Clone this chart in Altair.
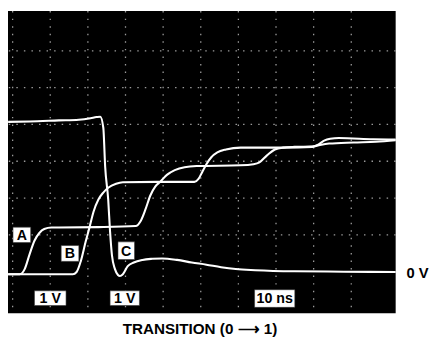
import altair as alt
import pandas as pd

# time axis in ns (10 ns/div), voltage in V (1 V/div)
time_a = [-1.2, 1.9, 3.2, 4.5, 5.8, 7.1, 8.4, 10.3, 12.3, 22.8, 32.7, 34.0, 35.3, 36.6, 37.9, 39.2, 41.0, 43.1, 45.7, 48.9, 60.6, 64.0, 65.6, 67.6, 69.7, 71.8, 74.9, 79.6, 81.2, 82.8, 84.4, 86.7, 95.8, 101.8]
volt_a = [-0.07, -0.07, 0.07, 0.47, 0.84, 1.05, 1.16, 1.20, 1.20, 1.21, 1.24, 1.37, 1.69, 2.07, 2.31, 2.44, 2.63, 2.76, 2.84, 2.87, 2.89, 2.92, 2.97, 3.16, 3.32, 3.37, 3.39, 3.40, 3.45, 3.56, 3.61, 3.63, 3.60, 3.59]

time_b = [-1.2, 16.0, 17.0, 18.1, 19.4, 20.4, 21.5, 22.8, 24.1, 25.4, 27.5, 29.3, 38.4, 48.3, 49.4, 50.4, 51.5, 52.8, 54.4, 56.7, 60.6, 72.3, 79.6, 81.7, 84.1, 90.6, 96.6, 101.8]
volt_b = [-0.07, -0.07, -0.01, 0.28, 0.81, 1.19, 1.63, 1.96, 2.15, 2.28, 2.39, 2.43, 2.44, 2.44, 2.52, 2.71, 2.92, 3.11, 3.24, 3.32, 3.37, 3.37, 3.39, 3.44, 3.48, 3.51, 3.53, 3.57]

time_c = [-1.2, 4.5, 12.3, 17.6, 20.7, 22.3, 23.3, 24.1, 24.6, 25.4, 25.9, 26.4, 27.2, 28.0, 28.5, 29.3, 30.6, 32.2, 34.5, 37.1, 39.7, 43.7, 47.6, 51.5, 55.4, 59.3, 64.5, 74.9, 88.0, 101.8]
volt_c = [4.07, 4.08, 4.11, 4.13, 4.17, 4.20, 4.21, 3.91, 2.84, 1.96, 1.08, 0.44, 0.07, -0.09, -0.12, -0.07, 0.15, 0.25, 0.32, 0.35, 0.36, 0.32, 0.25, 0.19, 0.12, 0.07, 0.04, 0.01, 0.00, -0.01]

grid_time = [0, 10, 20, 30, 40, 50, 60, 70, 80, 90]
grid_volt = [1, 2, 3, 4, 5, 6]

trace_names = ["A", "B", "C"]

rows = []
for name, ts, vs in zip(trace_names, [time_a, time_b, time_c], [volt_a, volt_b, volt_c]):
    for i, (t, v) in enumerate(zip(ts, vs)):
        rows.append({"trace": name, "t": t, "v": v, "i": i})
traces = pd.DataFrame(rows)

# annotation boxes (ns, V)
box_text = ["A", "B", "C", "1 V", "1 V", "10 ns"]
box_t1 = [0.1, 12.9, 28.0, 5.8, 25.9, 64.3]
box_t2 = [4.8, 17.6, 32.4, 14.2, 33.7, 75.0]
box_v1 = [1.21, 0.71, 0.81, -0.52, -0.52, -0.49]
box_v2 = [0.79, 0.28, 0.33, -0.92, -0.92, -0.97]
boxes = pd.DataFrame({"text": box_text, "t1": box_t1, "t2": box_t2, "v1": box_v1, "v2": box_v2})
boxes["tc"] = (boxes.t1 + boxes.t2) / 2
boxes["vc"] = (boxes.v1 + boxes.v2) / 2

outer_text = ["0 V", "TRANSITION (0 \u27f6 1)"]
outer_t = [107.6, 49.8]
outer_v = [-0.04, -1.56]
outer_size = [15, 15.5]
outer = pd.DataFrame({"text": outer_text, "t": outer_t, "v": outer_v, "size": outer_size})

xs = alt.Scale(domain=[-1.23, 101.8], nice=False, zero=False)
ys = alt.Scale(domain=[-1.133, 7.08], nice=False, zero=False)

vgrid = alt.Chart(pd.DataFrame({"t": grid_time})).mark_rule(
    color="#9a9a9a", strokeWidth=1.3, strokeDash=[1.5, 6.2]
).encode(x=alt.X("t:Q", scale=xs, axis=None))

hgrid = alt.Chart(pd.DataFrame({"v": grid_volt})).mark_rule(
    color="#9a9a9a", strokeWidth=1.3, strokeDash=[1.5, 6.2]
).encode(y=alt.Y("v:Q", scale=ys, axis=None))

lines = alt.Chart(traces).mark_line(color="white", strokeWidth=2.1, interpolate="monotone").encode(
    x=alt.X("t:Q", scale=xs, axis=None),
    y=alt.Y("v:Q", scale=ys, axis=None),
    detail="trace:N",
    order="i:Q",
)

rects = alt.Chart(boxes).mark_rect(fill="white", stroke="#333", strokeWidth=0.6).encode(
    x=alt.X("t1:Q", scale=xs, axis=None), x2="t2:Q",
    y=alt.Y("v1:Q", scale=ys, axis=None), y2="v2:Q",
)

box_labels = alt.Chart(boxes).mark_text(
    font="Liberation Sans", fontWeight="bold", fontSize=14.5, color="black", baseline="middle", align="center", dy=1
).encode(
    x=alt.X("tc:Q", scale=xs, axis=None),
    y=alt.Y("vc:Q", scale=ys, axis=None),
    text="text:N",
)

outer_labels = alt.Chart(outer).mark_text(
    font="Liberation Sans", fontWeight="bold", color="black", baseline="middle", align="center"
).encode(
    x=alt.X("t:Q", scale=xs, axis=None),
    y=alt.Y("v:Q", scale=ys, axis=None),
    text="text:N",
    size=alt.Size("size:Q", scale=None, legend=None),
)

chart = alt.layer(vgrid, hgrid, lines, rects, box_labels, outer_labels).properties(
    width=395,
    height=308,
    autosize=alt.AutoSizeParams(type="none"),
    padding={"left": 0, "top": 0, "right": 36, "bottom": 25},
    background="white",
).configure_view(fill="black", stroke=None)

chart.save("out.html", embed_options={"renderer": "svg", "actions": False})
